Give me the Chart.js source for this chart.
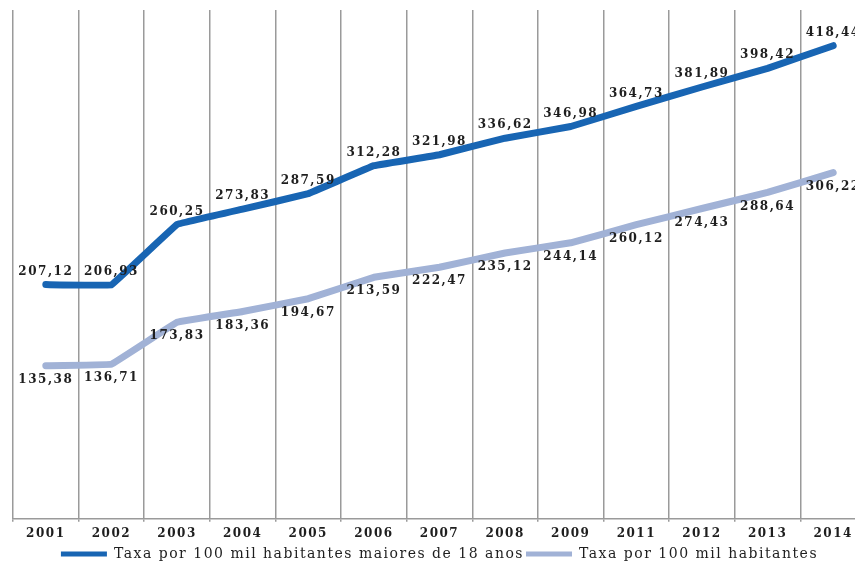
<!DOCTYPE html>
<html>
<head>
<meta charset="utf-8">
<script src="https://cdn.jsdelivr.net/npm/chart.js@4"></script>
<style>
  html, body { margin: 0; padding: 0; background: #fff; overflow: hidden; }
  canvas { display: block; }
</style>
</head>
<body>
<canvas id="taxaChart" width="866" height="561"></canvas>
<script>
const years = ['2001','2002','2003','2004','2005','2006','2007','2008','2009','2011','2012','2013','2014'];
const taxaMaiores18 = [207.12, 206.93, 260.25, 273.83, 287.59, 312.28, 321.98, 336.62, 346.98, 364.73, 381.89, 398.42, 418.44];
const taxaHabitantes = [135.38, 136.71, 173.83, 183.36, 194.67, 213.59, 222.47, 235.12, 244.14, 260.12, 274.43, 288.64, 306.22];

const serif = "'DejaVu Serif', 'Liberation Serif', serif";

// letter spacing so the text looks as wide as in the source picture
const spacing = {
  id: 'spacing',
  beforeUpdate: chart => { chart.ctx.letterSpacing = '1.5px'; },
  beforeDraw: chart => { chart.ctx.letterSpacing = '1.5px'; }
};

// values next to each point: dark line above, light line below
const pointLabels = {
  id: 'pointLabels',
  afterDatasetsDraw(chart) {
    const ctx = chart.ctx;
    ctx.save();
    ctx.font = "bold 12px " + serif;
    ctx.fillStyle = '#1e1e1e';
    ctx.textAlign = 'center';
    ctx.textBaseline = 'middle';
    chart.data.datasets.forEach((ds, i) => {
      const dy = i === 0 ? -13 : 14;
      chart.getDatasetMeta(i).data.forEach((pt, j) => {
        ctx.fillText(ds.data[j].toFixed(2).replace('.', ','), pt.x, pt.y + dy);
      });
    });
    ctx.restore();
  }
};

new Chart(document.getElementById('taxaChart'), {
  type: 'line',
  data: {
    labels: years,
    datasets: [
      { label: 'Taxa por 100 mil habitantes maiores de 18 anos', data: taxaMaiores18,
        borderColor: '#1865b3', backgroundColor: '#1865b3' },
      { label: 'Taxa por 100 mil habitantes', data: taxaHabitantes,
        borderColor: '#a1b2d6', backgroundColor: '#a1b2d6' }
    ]
  },
  options: {
    responsive: false,
    animation: false,
    layout: { padding: { left: 13, top: 10, right: 0, bottom: -10 } },
    elements: {
      line: { borderWidth: 7, tension: 0.03, borderCapStyle: 'round', borderJoinStyle: 'round' },
      point: { radius: 0 }
    },
    scales: {
      x: {
        offset: true,
        grid: { offset: true, color: '#9a9a9a', lineWidth: 1.5, tickLength: 3 },
        border: { color: '#9a9a9a', width: 1.5 },
        ticks: { color: '#1e1e1e', font: { family: serif, size: 12, weight: 'bold', lineHeight: 1.1 }, padding: 5, maxRotation: 0, autoSkip: false }
      },
      y: { display: false, min: 0, max: 450 }
    },
    plugins: {
      legend: {
        position: 'bottom',
        labels: {
          usePointStyle: true,
          pointStyle: 'line',
          pointStyleWidth: 46,
          padding: 2,
          color: '#1e1e1e',
          font: { family: serif, size: 14, lineHeight: 0.87 },
          generateLabels: chart => Chart.defaults.plugins.legend.labels.generateLabels(chart)
            .map(item => ({ ...item, lineWidth: 5, pointStyle: 'line' }))
        }
      },
      tooltip: { enabled: false }
    }
  },
  plugins: [spacing, pointLabels]
});
</script>
</body>
</html>
